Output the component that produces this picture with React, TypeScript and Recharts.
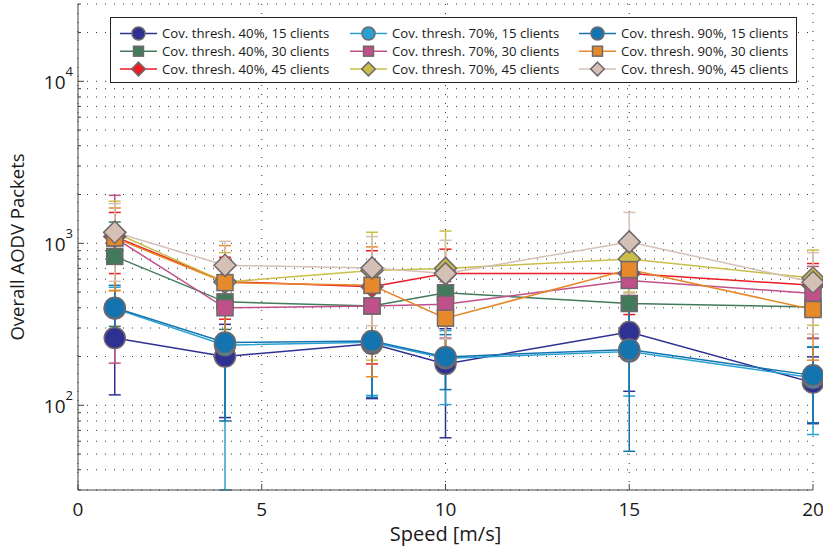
import React from 'react';
import { CartesianGrid, ErrorBar, Line, LineChart, XAxis, YAxis } from 'recharts';

const speeds = [1, 4, 8, 10, 15, 20];

// mean packet counts per speed
const cov40c15 = [260, 200, 240, 180, 283, 138];
const cov40c30 = [830, 435, 410, 495, 425, 405];
const cov40c45 = [1100, 580, 540, 650, 650, 550];
const cov70c15 = [395, 235, 245, 195, 215, 148];
const cov70c30 = [1080, 400, 410, 420, 590, 490];
const cov70c45 = [1165, 576, 680, 700, 800, 610];
const cov90c15 = [400, 244, 249, 199, 221, 153];
const cov90c30 = [1080, 572, 550, 345, 688, 390];
const cov90c45 = [1170, 731, 705, 650, 1020, 575];

// std deviation (error bar half length)
const err40c15 = [144, 116, 130, 117, 161, 61];
const err40c30 = [523, 141, 200, 150, 140, 147];
const err40c45 = [450, 240, 360, 270, 287, 200];
const err70c15 = [140, 230, 130, 94, 101, 82];
const err70c30 = [898, 180, 200, 160, 200, 230];
const err70c45 = [652, 300, 490, 490, 300, 298];
const err90c15 = [150, 164, 137, 74, 169, 75];
const err90c30 = [572, 396, 400, 130, 250, 200];
const err90c45 = [588, 298, 395, 394, 530, 300];

const xTicks = [0, 5, 10, 15, 20];
const yDecades = [10, 100, 1000, 10000];
const yMinorSteps = [1, 2, 3, 4, 5, 6, 7, 8, 9];
const yMajorTicks = [100, 1000, 10000];
const Y_MIN = 30;
const Y_MAX = 30000;

type Shape = 'circle' | 'square' | 'diamond';

type Series = {
  key: string;
  name: string;
  color: string;
  shape: Shape;
  values: number[];
  errors: number[];
};

const series: Series[] = [
  { key: 'c40_15', name: 'Cov. thresh. 40%, 15 clients', color: '#2e3192', shape: 'circle', values: cov40c15, errors: err40c15 },
  { key: 'c40_30', name: 'Cov. thresh. 40%, 30 clients', color: '#437a5b', shape: 'square', values: cov40c30, errors: err40c30 },
  { key: 'c40_45', name: 'Cov. thresh. 40%, 45 clients', color: '#ed1c24', shape: 'diamond', values: cov40c45, errors: err40c45 },
  { key: 'c70_15', name: 'Cov. thresh. 70%, 15 clients', color: '#29a2d2', shape: 'circle', values: cov70c15, errors: err70c15 },
  { key: 'c70_30', name: 'Cov. thresh. 70%, 30 clients', color: '#c0508a', shape: 'square', values: cov70c30, errors: err70c30 },
  { key: 'c70_45', name: 'Cov. thresh. 70%, 45 clients', color: '#c9bf48', shape: 'diamond', values: cov70c45, errors: err70c45 },
  { key: 'c90_15', name: 'Cov. thresh. 90%, 15 clients', color: '#1474b0', shape: 'circle', values: cov90c15, errors: err90c15 },
  { key: 'c90_30', name: 'Cov. thresh. 90%, 30 clients', color: '#e6892b', shape: 'square', values: cov90c30, errors: err90c30 },
  { key: 'c90_45', name: 'Cov. thresh. 90%, 45 clients', color: '#d5c0b6', shape: 'diamond', values: cov90c45, errors: err90c45 },
];

const yTicks = yDecades
  .flatMap((d) => yMinorSteps.map((m) => d * m))
  .filter((v) => v >= Y_MIN && v <= Y_MAX);

const rows = speeds.map((speed, i) => {
  const row: Record<string, unknown> = { speed };
  series.forEach((s) => {
    const v = s.values[i];
    const e = s.errors[i];
    row[s.key] = v;
    // clip the lower whisker at the axis floor (log scale)
    row[`${s.key}Err`] = [Math.min(e, v - Y_MIN), e];
  });
  return row;
});

const FONT = "'Open Sans', sans-serif";
const TEXT = '#1a1a1a';
const EDGE = '#6f686c';

function Marker({ cx, cy, shape, color, scale = 1 }: { cx: number; cy: number; shape: Shape; color: string; scale?: number }) {
  if (cx == null || cy == null) return null;
  if (shape === 'circle') {
    return <circle cx={cx} cy={cy} r={10.5 * scale} fill={color} stroke={EDGE} strokeWidth={1.5} />;
  }
  if (shape === 'square') {
    const h = 8 * scale;
    return <rect x={cx - h} y={cy - h} width={h * 2} height={h * 2} fill={color} stroke={EDGE} strokeWidth={1.5} />;
  }
  const d = 11 * scale;
  return (
    <polygon
      points={`${cx},${cy - d} ${cx + d},${cy} ${cx},${cy + d} ${cx - d},${cy}`}
      fill={color}
      stroke={EDGE}
      strokeWidth={1.5}
    />
  );
}

function YTick(props: any) {
  const { x, y, payload } = props;
  const v = payload.value;
  const major = yMajorTicks.includes(v);
  return (
    <g>
      <line x1={x} y1={y} x2={x + (major ? 6 : 3)} y2={y} stroke="#444" strokeWidth={1} />
      {major && (
        <text x={x - 5} y={y} textAnchor="end" fill={TEXT} fontFamily={FONT}>
          <tspan fontSize={19} dy={8}>10</tspan>
          <tspan fontSize={13} dy={-13}>{Math.round(Math.log10(v))}</tspan>
        </text>
      )}
    </g>
  );
}

function XTick(props: any) {
  const { x, y, payload } = props;
  return (
    <g>
      <line x1={x} y1={y} x2={x} y2={y - 6} stroke="#444" strokeWidth={1} />
      <text x={x} y={y + 26} textAnchor="middle" fontSize={19} fill={TEXT} fontFamily={FONT}>
        {payload.value}
      </text>
    </g>
  );
}

function YLabel(props: any) {
  const { viewBox } = props;
  const cx = 24;
  const cy = viewBox.y + viewBox.height / 2;
  return (
    <text
      x={cx}
      y={cy}
      transform={`rotate(-90, ${cx}, ${cy})`}
      textAnchor="middle"
      fontSize={18.5}
      fill={TEXT}
      fontFamily={FONT}
    >
      Overall AODV Packets
    </text>
  );
}

const legendCols = [9, 239, 468];
const legendRows = [15.5, 33.2, 51];

function LegendBox() {
  return (
    <div
      style={{
        position: 'absolute',
        left: 110,
        top: 17,
        width: 687,
        height: 66,
        boxSizing: 'border-box',
        border: '1.5px solid #222',
        background: '#fff',
      }}
    >
      <svg width={684} height={63} style={{ display: 'block' }}>
        {series.map((s, i) => {
          const col = Math.floor(i / 3);
          const row = i % 3;
          const x0 = legendCols[col];
          const y0 = legendRows[row];
          return (
            <g key={s.key}>
              <line x1={x0} y1={y0} x2={x0 + 37} y2={y0} stroke={s.color} strokeWidth={1.5} />
              <Marker cx={x0 + 18.5} cy={y0} shape={s.shape} color={s.color} scale={0.62} />
              <text x={x0 + 42} y={y0 + 4.5} fontSize={13.2} fill={TEXT} fontFamily={FONT}>
                {s.name}
              </text>
            </g>
          );
        })}
      </svg>
    </div>
  );
}

export default function App() {
  return (
    <div style={{ position: 'absolute', left: 0, top: 0, width: 823, height: 552, background: '#fff', fontFamily: FONT }}>
      <LineChart width={823} height={552} data={rows} margin={{ top: 4, right: 10, left: 0, bottom: 0 }}>
        <CartesianGrid stroke="#333" strokeWidth={1} strokeDasharray="1 8" />
        <XAxis
          dataKey="speed"
          type="number"
          domain={[0, 20]}
          ticks={xTicks}
          interval={0}
          height={62}
          tickSize={0}
          tickMargin={0}
          tick={<XTick />}
          axisLine={{ stroke: '#444' }}
          tickLine={false}
          label={{ value: 'Speed [m/s]', position: 'insideBottom', offset: 11, fontSize: 20, fill: TEXT, fontFamily: FONT }}
        />
        <YAxis
          type="number"
          scale="log"
          domain={[Y_MIN, Y_MAX]}
          allowDataOverflow
          ticks={yTicks}
          interval={0}
          width={78}
          tickSize={0}
          tickMargin={0}
          tick={<YTick />}
          axisLine={{ stroke: '#444' }}
          tickLine={false}
          label={<YLabel />}
        />
        {series.map((s) => (
          <Line
            key={s.key}
            dataKey={s.key}
            name={s.name}
            stroke={s.color}
            strokeWidth={1.5}
            isAnimationActive={false}
            dot={(p: any) => <Marker key={`${s.key}-${p.index}`} cx={p.cx} cy={p.cy} shape={s.shape} color={s.color} />}
            activeDot={false}
          >
            <ErrorBar dataKey={`${s.key}Err`} direction="y" width={6} stroke={s.color} strokeWidth={1.5} isAnimationActive={false} />
          </Line>
        ))}
      </LineChart>
      <LegendBox />
    </div>
  );
}
